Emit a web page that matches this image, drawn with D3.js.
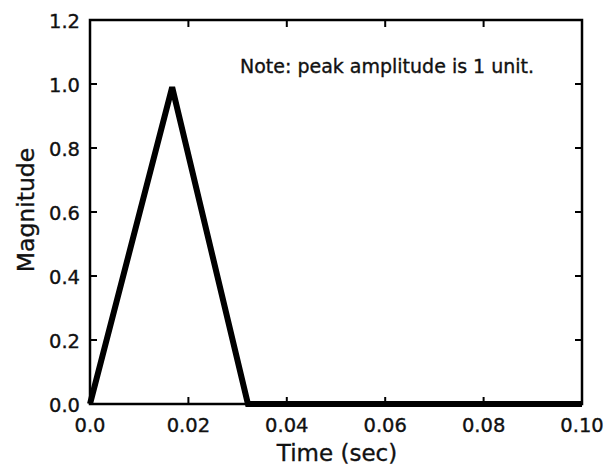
<!DOCTYPE html>
<html>
<head>
<meta charset="utf-8">
<script src="https://cdn.jsdelivr.net/npm/d3@7"></script>
<style>
  body { margin: 0; background: #fff; }
  text { font-family: "DejaVu Sans", sans-serif; fill: #111; stroke: #111; stroke-width: 0.35; }
</style>
</head>
<body>
<svg id="chart" width="609" height="468"></svg>
<script>
// signal samples: time (sec) and magnitude
const times = [0.0, 0.0167, 0.0321, 0.1];
const magnitudes = [0.0, 0.99, 0.0, 0.0];
const xTicks = [0.0, 0.02, 0.04, 0.06, 0.08, 0.10];
const yTicks = [0.0, 0.2, 0.4, 0.6, 0.8, 1.0, 1.2];
const note = "Note: peak amplitude is 1 unit.";

const svg = d3.select("#chart");
const plotL = 90, plotR = 582, plotT = 20, plotB = 404;

const x = d3.scaleLinear().domain([0, 0.1]).range([plotL, plotR]);
const y = d3.scaleLinear().domain([0, 1.2]).range([plotB, plotT]);

const points = times.map((t, i) => [t, magnitudes[i]]);

// data line
svg.append("path")
  .datum(points)
  .attr("fill", "none")
  .attr("stroke", "#000")
  .attr("stroke-width", 6)
  .attr("stroke-linejoin", "miter")
  .attr("d", d3.line().x(d => x(d[0])).y(d => y(d[1])));

// frame
svg.append("rect")
  .attr("x", plotL).attr("y", plotT)
  .attr("width", plotR - plotL).attr("height", plotB - plotT)
  .attr("fill", "none").attr("stroke", "#000").attr("stroke-width", 2.5);

const tickLen = 7;
// inward ticks on all four sides
const g = svg.append("g").attr("stroke", "#000").attr("stroke-width", 2);
g.selectAll("line.xb").data(xTicks).join("line")
  .attr("x1", d => x(d)).attr("x2", d => x(d))
  .attr("y1", plotB).attr("y2", plotB - tickLen);
g.selectAll("line.xt").data(xTicks).join("line")
  .attr("x1", d => x(d)).attr("x2", d => x(d))
  .attr("y1", plotT).attr("y2", plotT + tickLen);
g.selectAll("line.yl").data(yTicks).join("line")
  .attr("x1", plotL).attr("x2", plotL + tickLen)
  .attr("y1", d => y(d)).attr("y2", d => y(d));
g.selectAll("line.yr").data(yTicks).join("line")
  .attr("x1", plotR).attr("x2", plotR - tickLen)
  .attr("y1", d => y(d)).attr("y2", d => y(d));

// tick labels
svg.selectAll("text.xl").data(xTicks).join("text")
  .attr("x", d => x(d)).attr("y", 432)
  .attr("text-anchor", "middle").attr("font-size", 19.5)
  .text(d => d === 0 ? "0.0" : d3.format(".2f")(d));
svg.selectAll("text.yl").data(yTicks).join("text")
  .attr("x", 80).attr("y", d => y(d) + 7.5)
  .attr("text-anchor", "end").attr("font-size", 19.5)
  .text(d3.format(".1f"));

// axis titles
svg.append("text")
  .attr("x", 337).attr("y", 461)
  .attr("text-anchor", "middle").attr("font-size", 23)
  .text("Time (sec)");
svg.append("text")
  .attr("transform", "translate(34,210) rotate(-90)")
  .attr("text-anchor", "middle").attr("font-size", 23.5)
  .text("Magnitude");

// annotation
svg.append("text")
  .attr("x", 240).attr("y", 73)
  .attr("font-size", 19)
  .text(note);
</script>
</body>
</html>
